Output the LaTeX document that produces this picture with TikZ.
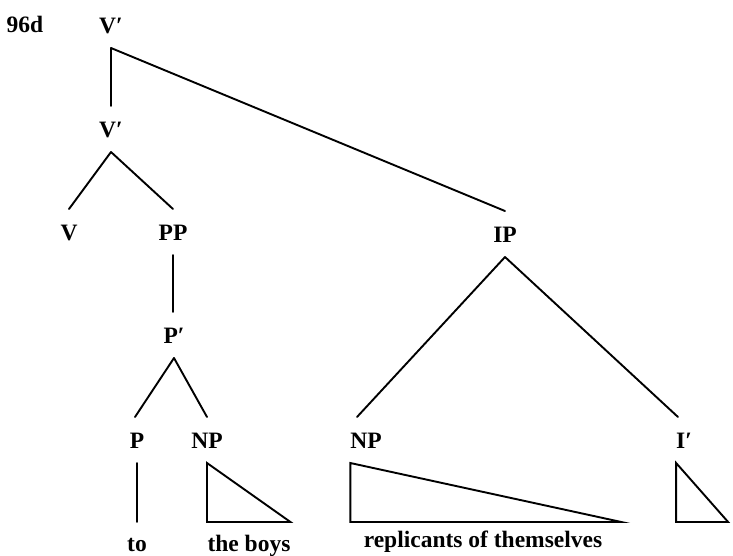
\documentclass[tikz,border=0pt]{standalone}
\usepackage{fontspec}
\setmainfont{Liberation Serif}
\begin{document}
\begin{tikzpicture}[x=1pt,y=-1pt,
  treefont/.style={font=\fontsize{23.5}{27}\selectfont\bfseries},
  cat/.style={treefont,anchor=base,inner sep=0pt,text height=16pt,text depth=0pt,outer xsep=0pt,outer ysep=15pt},
  leaf/.style={treefont,anchor=base,inner sep=0pt,text height=16pt,text depth=0pt,outer xsep=0pt,outer ysep=13pt},
  branch/.style={line width=1.9pt,line cap=round},
  tri/.style={line width=1.9pt,line join=miter}]
\useasboundingbox (0,0) rectangle (733,555);

% example number
\node[treefont,anchor=base,inner sep=0pt] (num) at (25,32) {96d};

% category labels
\node[cat] (vt)   at (111,33)  {V′};
\node[cat] (vm)   at (111,137) {V′};
\node[cat] (v)    at (69,240)  {V};
\node[cat] (pp)   at (173,240) {PP};
\node[cat] (ip)   at (505,242) {IP};
\node[cat] (pbar) at (174,343) {P′};
\node[cat] (p)    at (137,448) {P};
\node[cat] (np1)  at (207,448) {NP};
\node[cat] (np2)  at (366,448) {NP};
\node[cat] (ibar) at (684,448) {I′};

% terminal strings
\node[leaf] (to)   at (137,551) {to};
\node[leaf] (boys) at (249,551) {the boys};
\node[leaf] (rep)  at (483,547) {replicants of themselves};

% branches
\draw[branch] (vt.south) -- (vm.north);
\draw[branch] (vt.south) -- (ip.north);
\draw[branch] (vm.south) -- (v.north);
\draw[branch] (vm.south) -- (pp.north);
\draw[branch] (pp.south) -- (pp.south |- pbar.north);
\draw[branch] (pbar.south) -- ([xshift=-2pt]p.north);
\draw[branch] (pbar.south) -- (np1.north);
\draw[branch] (ip.south) -- ([xshift=-9pt]np2.north);
\draw[branch] (ip.south) -- ([xshift=-6pt]ibar.north);
\draw[branch] (p.south) -- (to.north);

% collapsed constituents
\draw[tri] (np1.south) -- (np1.south |- to.north) -- (boys.north east |- to.north) -- cycle;
\draw[tri] (np2.south west) -- (np2.south west |- to.north) -- ++(271,0) -- cycle;
\draw[tri] (ibar.south west) -- (ibar.south west |- to.north) -- ++(52,0) -- cycle;
\end{tikzpicture}
\end{document}
